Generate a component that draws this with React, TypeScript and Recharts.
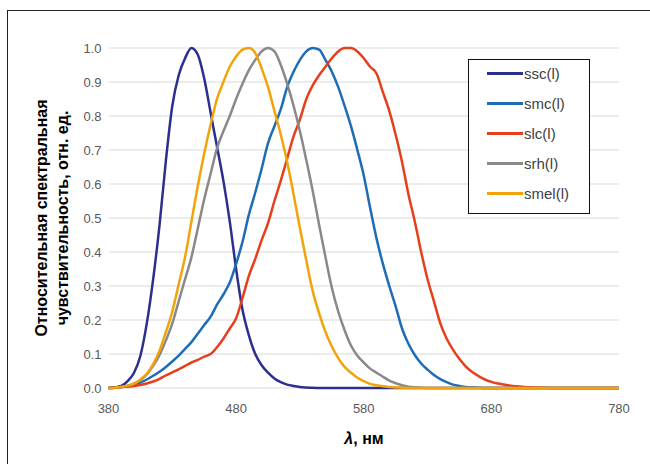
import React from 'react';
import { LineChart, Line, XAxis, YAxis, CartesianGrid, Legend } from 'recharts';

const wavelengths = [
  380, 385, 390, 395, 400, 405, 410, 415, 420, 425, 430, 435, 440, 445, 450, 455, 460, 465, 470, 475,
  480, 485, 490, 495, 500, 505, 510, 515, 520, 525, 530, 535, 540, 545, 550, 555, 560, 565, 570, 575,
  580, 585, 590, 595, 600, 605, 610, 615, 620, 625, 630, 635, 640, 645, 650, 655, 660, 665, 670, 675,
  680, 685, 690, 695, 700, 710, 720, 730, 740, 750, 760, 770, 780,
];

const ssc = [
  0, 0.002, 0.006, 0.02, 0.045, 0.095, 0.19, 0.32, 0.48, 0.67, 0.83, 0.92, 0.97, 1.0, 0.98, 0.91, 0.81, 0.71, 0.61, 0.49,
  0.35, 0.23, 0.155, 0.1, 0.067, 0.045, 0.028, 0.017, 0.01, 0.006, 0.003, 0.0015, 0.0005, 0, 0, 0, 0, 0, 0, 0,
  0, 0, 0, 0, 0, 0, 0, 0, 0, 0, 0, 0, 0, 0, 0, 0, 0, 0, 0, 0,
  0, 0, 0, 0, 0, 0, 0, 0, 0, 0, 0, 0, 0,
];

const smc = [
  0, 0.001, 0.003, 0.006, 0.01, 0.016, 0.025, 0.036, 0.048, 0.062, 0.078, 0.095, 0.115, 0.135, 0.16, 0.185, 0.21, 0.245, 0.275, 0.31,
  0.365, 0.43, 0.51, 0.575, 0.645, 0.72, 0.77, 0.82, 0.885, 0.93, 0.965, 0.99, 1.0, 0.995, 0.965, 0.93, 0.885, 0.83, 0.77, 0.7,
  0.625, 0.53, 0.44, 0.365, 0.3, 0.24, 0.175, 0.13, 0.097, 0.072, 0.054, 0.038, 0.026, 0.017, 0.01, 0.006, 0.003, 0.002, 0.001, 0,
  0, 0, 0, 0, 0, 0, 0, 0, 0, 0, 0, 0, 0,
];

const slc = [
  0, 0.001, 0.002, 0.004, 0.006, 0.009, 0.013, 0.019, 0.027, 0.037, 0.046, 0.055, 0.065, 0.075, 0.083, 0.092, 0.1, 0.12, 0.145, 0.175,
  0.205, 0.265, 0.33, 0.38, 0.435, 0.485, 0.55, 0.61, 0.675, 0.74, 0.79, 0.85, 0.89, 0.92, 0.945, 0.97, 0.99, 1.0, 1.0, 0.99,
  0.97, 0.945, 0.925, 0.87, 0.815, 0.745, 0.665, 0.57, 0.49, 0.4, 0.32, 0.255, 0.19, 0.145, 0.112, 0.085, 0.063, 0.047, 0.035, 0.025,
  0.018, 0.013, 0.01, 0.007, 0.005, 0.002, 0.001, 0, 0, 0, 0, 0, 0,
];

const srh = [
  0, 0.001, 0.003, 0.007, 0.013, 0.023, 0.04, 0.065, 0.097, 0.14, 0.19, 0.255, 0.32, 0.385, 0.47, 0.555, 0.63, 0.705, 0.755, 0.8,
  0.85, 0.895, 0.935, 0.965, 0.99, 1.0, 0.99, 0.95, 0.895, 0.83, 0.755, 0.67, 0.58, 0.48, 0.385, 0.295, 0.225, 0.17, 0.125, 0.095,
  0.075, 0.057, 0.045, 0.033, 0.022, 0.014, 0.008, 0.004, 0.002, 0.001, 0, 0, 0, 0, 0, 0, 0, 0, 0, 0,
  0, 0, 0, 0, 0, 0, 0, 0, 0, 0, 0, 0, 0,
];

const smel = [
  0, 0.001, 0.003, 0.007, 0.013, 0.025, 0.042, 0.07, 0.11, 0.165, 0.225, 0.305, 0.385, 0.49, 0.595, 0.69, 0.775, 0.85, 0.9, 0.945,
  0.975, 0.995, 1.0, 0.985, 0.94, 0.885, 0.815, 0.745, 0.665, 0.57, 0.47, 0.375, 0.285, 0.22, 0.165, 0.122, 0.088, 0.062, 0.045, 0.03,
  0.02, 0.012, 0.008, 0.005, 0.003, 0.0015, 0.001, 0, 0, 0, 0, 0, 0, 0, 0, 0, 0, 0, 0, 0,
  0, 0, 0, 0, 0, 0, 0, 0, 0, 0, 0, 0, 0,
];

const seriesNames = ['ssc(l)', 'smc(l)', 'slc(l)', 'srh(l)', 'smel(l)'];
const seriesKeys = ['ssc', 'smc', 'slc', 'srh', 'smel'];
const seriesColors = ['#2b2f8e', '#1c6db6', '#e63f1c', '#898989', '#f3a30a'];

const xTicks = [380, 480, 580, 680, 780];
const yTicks = [0, 0.1, 0.2, 0.3, 0.4, 0.5, 0.6, 0.7, 0.8, 0.9, 1.0];

const yTitle = ['Относительная спектральная', 'чувствительность, отн. ед.'];
const xTitleSymbol = 'λ';
const xTitleUnit = ', нм';

const data = wavelengths.map((w, i) => ({
  w,
  ssc: ssc[i],
  smc: smc[i],
  slc: slc[i],
  srh: srh[i],
  smel: smel[i],
}));

const tickStyle = { fontFamily: 'Liberation Sans, Arial, sans-serif', fontSize: 13, fill: '#595959' };

const renderLegend = () => (
  <div
    style={{
      width: '100%',
      height: '100%',
      boxSizing: 'border-box',
      border: '1.5px solid #111',
      background: '#fff',
      position: 'relative',
    }}
  >
    {seriesKeys.map((k, i) => (
      <div
        key={k}
        style={{
          position: 'absolute',
          left: 18,
          top: 13.5 + i * 30 - 9,
          height: 18,
          display: 'flex',
          alignItems: 'center',
        }}
      >
        <div style={{ width: 36, height: 3, background: seriesColors[i] }} />
        <span
          style={{
            marginLeft: 1,
            fontSize: 15,
            color: '#404040',
            fontFamily: 'Liberation Sans, Arial, sans-serif',
            lineHeight: '18px',
          }}
        >
          {seriesNames[i]}
        </span>
      </div>
    ))}
  </div>
);

const YTitle = () => (
  <text
    transform="rotate(-90, 57, 218)"
    textAnchor="middle"
    fontFamily="Liberation Sans, Arial, sans-serif"
    fontWeight="bold"
    fontSize={16}
    fill="#000"
  >
    <tspan x={57} y={208}>{yTitle[0]}</tspan>
    <tspan x={57} y={229}>{yTitle[1]}</tspan>
  </text>
);

const XTitle = () => (
  <text
    x={364}
    y={444}
    textAnchor="middle"
    fontFamily="Liberation Sans, Arial, sans-serif"
    fontWeight="bold"
    fontSize={16}
    fill="#000"
  >
    <tspan fontStyle="italic">{xTitleSymbol}</tspan>
    <tspan>{xTitleUnit}</tspan>
  </text>
);

export default function App() {
  return (
    <div
      style={{
        position: 'absolute',
        left: 0,
        top: 0,
        width: 650,
        height: 464,
        overflow: 'hidden',
        background: '#fff',
      }}
    >
      <div
        style={{
          position: 'absolute',
          left: 7,
          top: 10,
          width: 700,
          height: 500,
          border: '1.5px solid #222',
          boxSizing: 'border-box',
        }}
      />
      <div style={{ position: 'absolute', left: 0, top: 0 }}>
        <LineChart
          width={650}
          height={464}
          data={data}
          margin={{ top: 48, right: 31, bottom: 46, left: 0 }}
        >
          <CartesianGrid horizontal vertical={false} stroke="#d9d9d9" strokeWidth={1} />
          <XAxis
            dataKey="w"
            type="number"
            domain={[380, 780]}
            ticks={xTicks}
            axisLine={false}
            tickLine={false}
            tickSize={0}
            tickMargin={16}
            height={30}
            tick={tickStyle}
            interval={0}
            label={{ content: () => <XTitle /> }}
          />
          <YAxis
            type="number"
            domain={[0, 1]}
            ticks={yTicks}
            axisLine={false}
            tickLine={false}
            tickSize={0}
            tickMargin={7}
            width={108.5}
            tick={tickStyle}
            interval={0}
            tickFormatter={(v: number) => v.toFixed(1)}
            label={{ content: () => <YTitle /> }}
          />
          {seriesKeys.map((k, i) => (
            <Line
              key={k}
              type="monotone"
              dataKey={k}
              name={seriesNames[i]}
              stroke={seriesColors[i]}
              strokeWidth={2.5}
              dot={false}
              activeDot={false}
              isAnimationActive={false}
            />
          ))}
          <Legend
            layout="vertical"
            align="center"
            verticalAlign="middle"
            content={renderLegend}
            wrapperStyle={{ left: 468, top: 59, width: 122, height: 155, margin: 0 }}
          />
        </LineChart>
      </div>
    </div>
  );
}
